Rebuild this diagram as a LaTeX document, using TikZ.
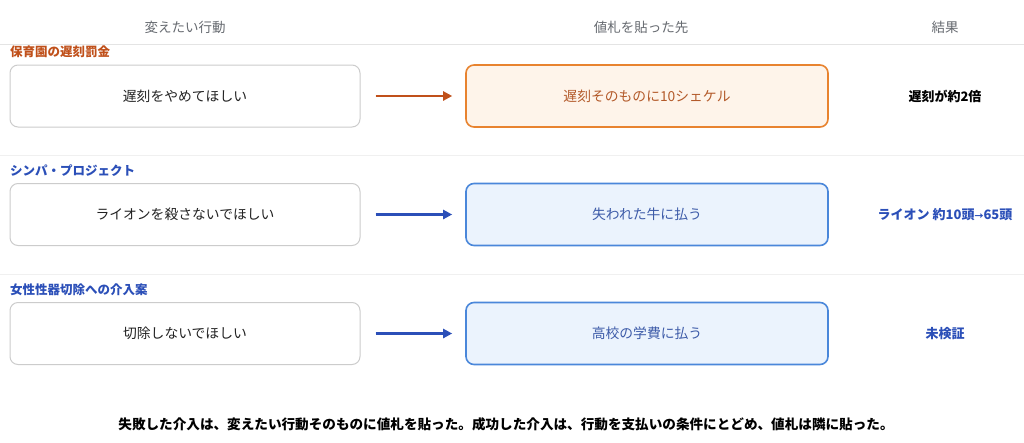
\documentclass[tikz,border=0pt]{standalone}
\usepackage{fontspec}
\setmainfont{Noto Sans CJK JP}
\usetikzlibrary{arrows.meta}
\definecolor{hdrgray}{HTML}{666A70}
\definecolor{hline}{HTML}{E4E4E4}
\definecolor{sline}{HTML}{F0F0F0}
\definecolor{boxgray}{HTML}{CCCCCC}
\definecolor{orglab}{HTML}{C0501A}
\definecolor{orgborder}{HTML}{E8832F}
\definecolor{orgfill}{HTML}{FEF4EA}
\definecolor{orgtext}{HTML}{B35A2A}
\definecolor{bluelab}{HTML}{2B4FB8}
\definecolor{blueborder}{HTML}{4A87DA}
\definecolor{bluefill}{HTML}{EBF3FD}
\definecolor{bluetext}{HTML}{3D5BA8}
\definecolor{txt}{HTML}{222222}
\begin{document}
\begin{tikzpicture}[x=1pt,y=-1pt,
  hdr/.style={font=\fontsize{13.5}{16}\selectfont, text=hdrgray},
  sec/.style={font=\bfseries\fontsize{12.5}{15}\selectfont, anchor=west, inner sep=0pt},
  leftbox/.style={draw=boxgray, fill=white, rounded corners=8pt, line width=1pt, minimum width=350pt, minimum height=62pt, font=\fontsize{13.8}{16}\selectfont, text=txt},
  midbox/.style={rounded corners=8pt, line width=1.6pt, minimum width=362pt, minimum height=62pt, font=\fontsize{13.8}{16}\selectfont},
  orgbox/.style={midbox, draw=orgborder, fill=orgfill, text=orgtext},
  bluebox/.style={midbox, draw=blueborder, fill=bluefill, text=bluetext},
  arr/.style={line width=2.2pt, -{Triangle[length=9pt,width=9pt]}},
  res/.style={font=\bfseries\fontsize{13}{16}\selectfont}
]
\useasboundingbox (0,0) rectangle (1024,442);
\fill[white] (0,0) rectangle (1024,442);
% header
\node[hdr] (h1) at (185,27) {変えたい行動};
\node[hdr] (h2) at (641,27) {値札を貼った先};
\node[hdr] (h3) at (945,27) {結果};
\draw[draw=hline, line width=1pt] (0,44) -- (1024,44);
% row 1
\node[sec, text=orglab] (s1) at (10,52) {保育園の遅刻罰金};
\node[leftbox] (l1) at (185,96) {遅刻をやめてほしい};
\node[orgbox] (m1) at (647,96) {遅刻そのものに10シェケル};
\draw[arr, draw=orglab, fill=orglab] ([xshift=15pt]l1.east) -- ([xshift=-13pt]m1.west);
\node[res, text=black] (r1) at (945,96) {遅刻が約2倍};
\draw[draw=sline, line width=1pt] (0,155) -- (1024,155);
% row 2
\node[sec, text=bluelab] (s2) at (10,171) {シンパ・プロジェクト};
\node[leftbox] (l2) at (185,214.5) {ライオンを殺さないでほしい};
\node[bluebox] (m2) at (647,214.5) {失われた牛に払う};
\draw[arr, draw=bluelab, fill=bluelab] ([xshift=15pt]l2.east) -- ([xshift=-13pt]m2.west);
\node[res, text=bluelab] (r2) at (945,214.5) {ライオン 約10頭{\fontsize{9}{10}\selectfont →}65頭};
\draw[draw=sline, line width=1pt] (0,274) -- (1024,274);
% row 3
\node[sec, text=bluelab] (s3) at (10,290) {女性性器切除への介入案};
\node[leftbox] (l3) at (185,333.5) {切除しないでほしい};
\node[bluebox] (m3) at (647,333.5) {高校の学費に払う};
\draw[arr, draw=bluelab, fill=bluelab] ([xshift=15pt]l3.east) -- ([xshift=-13pt]m3.west);
\node[res, text=bluelab] (r3) at (945,333.5) {未検証};
% footer
\node[font=\bfseries\fontsize{13.6}{16}\selectfont, text=black] (f) at (506,424) {失敗した介入は、変えたい行動そのものに値札を貼った。成功した介入は、行動を支払いの条件にとどめ、値札は隣に貼った。};
\end{tikzpicture}
\end{document}
